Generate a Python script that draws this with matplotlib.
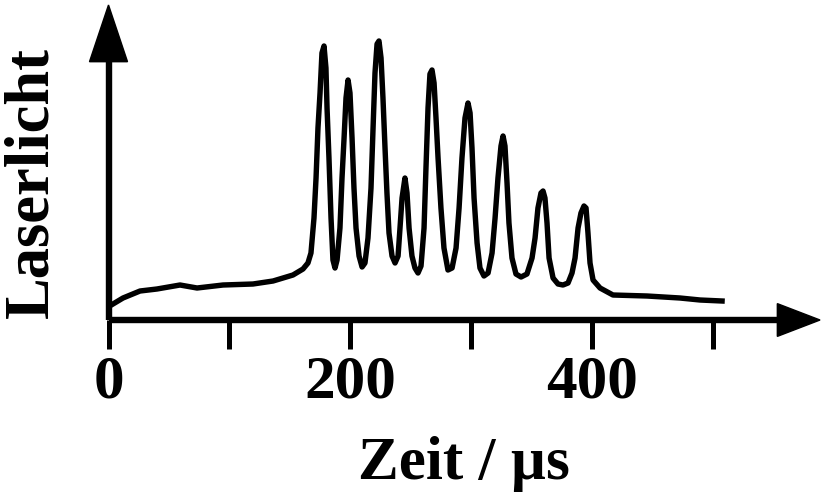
import numpy as np
import matplotlib.pyplot as plt
from matplotlib.patches import Polygon

# laser light signal vs. time
t_us = [3.7, 12.0, 26.1, 40.1, 59.2, 73.3, 94.8, 119.6, 136.2, 152.7,
        161.0, 165.1, 167.6, 170.1, 171.8, 173.4, 175.1, 176.7, 178.4, 180.0,
        180.9, 182.5, 184.2, 185.8, 187.5, 189.2, 191.6, 193.3, 195.0, 196.6,
        198.3, 199.9, 201.6, 203.2, 204.9, 207.4, 209.9, 212.3, 214.8, 217.3,
        219.0, 220.6, 222.3, 223.9, 225.6, 227.2, 228.9, 230.5, 232.2, 234.7,
        237.2, 239.7, 241.3, 243.0, 245.4, 247.1, 248.8, 251.2, 253.7, 256.2,
        258.7, 261.2, 262.8, 264.5, 266.1, 267.8, 269.5, 271.1, 272.8, 275.2,
        277.7, 281.0, 284.4, 287.7, 290.2, 292.6, 295.1, 297.6, 299.3, 300.9,
        302.6, 305.1, 307.5, 310.8, 314.2, 317.5, 320.0, 322.4, 324.9, 326.6,
        328.2, 329.9, 331.5, 334.0, 337.3, 341.5, 346.4, 350.6, 353.1, 355.5,
        358.0, 359.7, 361.3, 363.0, 364.7, 368.0, 372.1, 376.2, 380.4, 383.7,
        386.2, 388.7, 391.1, 393.6, 395.3, 396.9, 398.6, 401.1, 406.9, 417.6,
        445.8, 473.1, 489.7, 507.9]
signal = [0.16, 0.22, 0.29, 0.31, 0.35, 0.32, 0.35, 0.36, 0.39, 0.45,
          0.51, 0.57, 0.67, 1.02, 1.42, 1.92, 2.27, 2.67, 2.74, 2.52,
          2.12, 1.62, 1.02, 0.60, 0.52, 0.60, 0.92, 1.42, 1.82, 2.22,
          2.40, 2.27, 1.82, 1.32, 0.92, 0.64, 0.53, 0.57, 0.82, 1.32,
          1.92, 2.47, 2.76, 2.79, 2.62, 2.22, 1.72, 1.27, 0.87, 0.64,
          0.57, 0.64, 0.92, 1.22, 1.42, 1.27, 0.92, 0.64, 0.52, 0.47,
          0.54, 0.92, 1.52, 2.12, 2.46, 2.50, 2.37, 2.02, 1.62, 1.12,
          0.72, 0.50, 0.52, 0.72, 1.12, 1.62, 2.02, 2.17, 2.07, 1.72,
          1.22, 0.77, 0.52, 0.44, 0.47, 0.67, 1.02, 1.42, 1.74, 1.84,
          1.74, 1.37, 0.97, 0.62, 0.46, 0.43, 0.46, 0.62, 0.82, 1.12,
          1.27, 1.29, 1.22, 0.97, 0.62, 0.42, 0.36, 0.35, 0.37, 0.47,
          0.62, 0.92, 1.07, 1.14, 1.12, 0.87, 0.57, 0.40, 0.32, 0.25,
          0.24, 0.22, 0.20, 0.19]

xticks = [0, 100, 200, 300, 400, 500]
xtick_labels = ['0', '', '200', '', '400', '']

plt.rcParams['font.family'] = ['Liberation Serif', 'DejaVu Serif']
plt.rcParams['font.weight'] = 'bold'

fig = plt.figure(figsize=(8.22, 4.99), dpi=100)
ax = fig.add_axes([0.132, 0.3587, 0.8656, 0.6313])

ax.plot(t_us, signal, color='black', lw=3.9, solid_joinstyle='round')

ax.set_xlim(0, 589)
ax.set_ylim(0, 3.15)

for s in ax.spines.values():
    s.set_visible(False)

# axes drawn as arrows
lw_axis = 4.6
ax.plot([0, 0], [0, 0.83], transform=ax.transAxes, color='black',
        lw=lw_axis, clip_on=False, solid_capstyle='butt')
ax.add_patch(Polygon([[-0.0267, 0.82], [0.0267, 0.82], [0, 1.0]],
                     closed=True, transform=ax.transAxes, color='black',
                     clip_on=False))
ax.plot([0, 0.945], [0, 0], transform=ax.transAxes, color='black',
        lw=lw_axis, clip_on=False, solid_capstyle='butt')
ax.add_patch(Polygon([[0.94, -0.052], [0.94, 0.052], [1.0, 0]],
                     closed=True, transform=ax.transAxes, color='black',
                     clip_on=False))

ax.set_xticks(xticks)
ax.set_xticklabels(xtick_labels)
ax.set_yticks([])
ax.tick_params(axis='x', direction='out', length=21, width=3.6,
               labelsize=44, pad=4)

ax.set_xlabel('Zeit / µs', fontsize=44, fontweight='bold', labelpad=18)
ax.set_ylabel('Laserlicht', fontsize=45, fontweight='bold')
ax.yaxis.set_label_coords(-0.066, 0.438)

fig.savefig('out.png', dpi=100)
